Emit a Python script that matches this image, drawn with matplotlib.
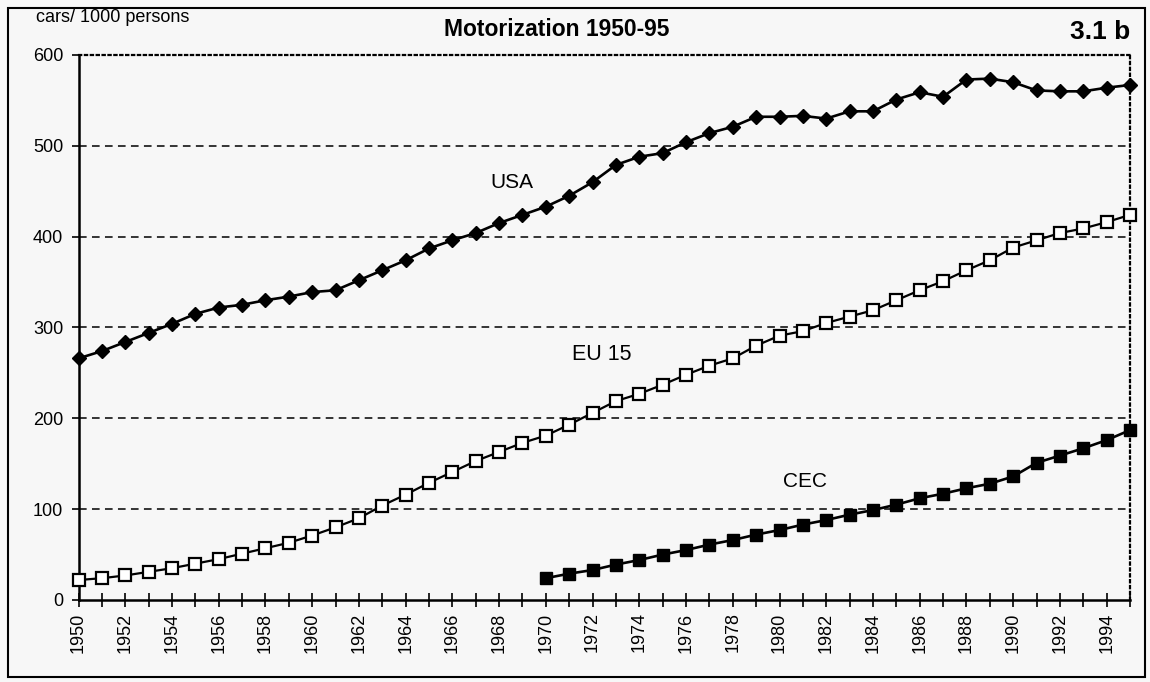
import matplotlib
matplotlib.use("Agg")
import matplotlib.pyplot as plt
from matplotlib.patches import Rectangle
from matplotlib.ticker import MultipleLocator, FixedLocator

plt.rcParams['font.family'] = ['Liberation Sans', 'DejaVu Sans']

years = list(range(1950, 1996))
usa = [266, 274, 284, 294, 304, 315, 322, 325, 330, 334,
       339, 341, 352, 363, 374, 387, 396, 404, 415, 424,
       433, 445, 460, 479, 488, 492, 504, 514, 521, 532,
       532, 533, 530, 538, 538, 551, 559, 554, 573, 574,
       570, 561, 560, 560, 564, 567]
eu15 = [22, 24, 27, 31, 35, 40, 45, 51, 57, 63,
        71, 80, 90, 104, 116, 129, 141, 153, 163, 173,
        181, 193, 206, 219, 227, 237, 248, 258, 266, 280,
        291, 296, 305, 312, 319, 330, 341, 351, 363, 374,
        388, 396, 404, 409, 416, 424]
cec_years = list(range(1970, 1996))
cec = [24, 29, 33, 39, 44, 50, 55, 61, 66, 72,
       77, 83, 88, 94, 99, 105, 112, 117, 123, 128,
       136, 151, 159, 167, 176, 187]

y_ticks = [0, 100, 200, 300, 400, 500, 600]
x_label_years = list(range(1950, 1995, 2))

bg = '#f7f7f7'
fig = plt.figure(figsize=(11.5, 6.82), dpi=100, facecolor=bg)
ax = fig.add_axes([78.5/1150, 1-600/682, (1130-78.5)/1150, (600-55)/682])
ax.set_facecolor(bg)

# frame around figure
fig.patches.append(Rectangle((8/1150, 1-677/682), (1145-8)/1150, (677-8)/682,
                             transform=fig.transFigure, fill=False,
                             edgecolor='black', linewidth=1.5))

ax.set_xlim(1950, 1995)
ax.set_ylim(0, 600)

for v in y_ticks[1:-1]:
    ax.axhline(v, color='black', linewidth=1.1, linestyle=(0, (5, 3.5)), zorder=1)

ax.plot(years, usa, color='black', linewidth=1.9, marker='D', markersize=7.5,
        markerfacecolor='black', markeredgecolor='black', zorder=3, clip_on=False)
ax.plot(years, eu15, color='black', linewidth=1.6, marker='s', markersize=8,
        markerfacecolor='white', markeredgecolor='black', markeredgewidth=1.6,
        zorder=3, clip_on=False)
ax.plot(cec_years, cec, color='black', linewidth=1.9, marker='s', markersize=8,
        markerfacecolor='black', markeredgecolor='black', zorder=3, clip_on=False)

ax.text(1968.55, 460, 'USA', fontsize=15, ha='center', va='center')
ax.text(1972.4, 270, 'EU 15', fontsize=15.5, ha='center', va='center')
ax.text(1981.1, 130, 'CEC', fontsize=15, ha='center', va='center')

for s in ['top', 'right']:
    ax.spines[s].set_linestyle(':')
    ax.spines[s].set_linewidth(1.6)
for s in ['left', 'bottom']:
    ax.spines[s].set_linewidth(1.8)

ax.xaxis.set_major_locator(FixedLocator(x_label_years))
ax.xaxis.set_minor_locator(MultipleLocator(1))
ax.set_xticklabels([str(y) for y in x_label_years], rotation=90)
ax.tick_params(axis='x', which='both', direction='inout', length=10, width=1.2,
               labelsize=13, pad=4)
ax.set_yticks(y_ticks)
ax.tick_params(axis='y', direction='out', length=5, width=1.2, labelsize=13, pad=6)

fig.text(36/1150, 1-18/682, 'cars/ 1000 persons', fontsize=13, ha='left', va='center')
fig.text(557/1150, 1-30/682, 'Motorization 1950-95', fontsize=16.5,
         fontweight='bold', ha='center', va='center')
fig.text(1130/1150, 1-32/682, '3.1 b', fontsize=19, fontweight='bold',
         ha='right', va='center')

fig.savefig('out.png', dpi=100, facecolor=bg)
